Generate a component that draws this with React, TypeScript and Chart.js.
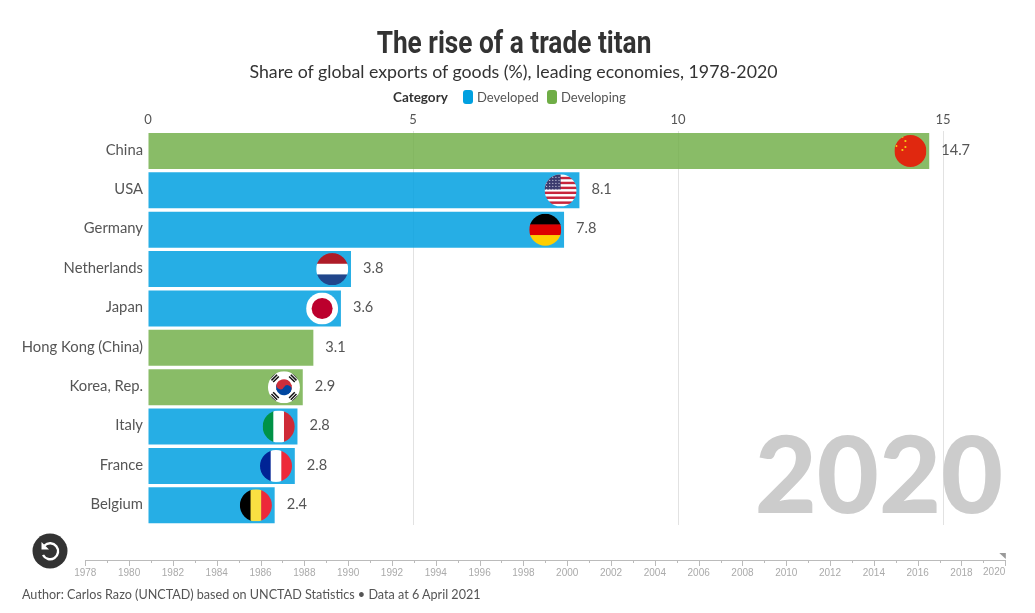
import React, { useEffect, useRef } from "react";
import { Chart, registerables } from "chart.js";

Chart.register(...registerables);

const categories = ["China", "USA", "Germany", "Netherlands", "Japan", "Hong Kong (China)", "Korea, Rep.", "Italy", "France", "Belgium"];
const developed = [null, 8.14, 7.85, 3.83, 3.64, null, null, 2.82, 2.77, 2.39];
const developing = [14.74, null, null, null, null, 3.12, 2.92, null, null, null];
const valueLabels = ["14.7", "8.1", "7.8", "3.8", "3.6", "3.1", "2.9", "2.8", "2.8", "2.4"];
const flags = ["cn", "us", "de", "nl", "jp", "", "kr", "it", "fr", "be"];
const xTicks = [0, 5, 10, 15];
const years = [1978, 2020];
const currentYear = "2020";

const BODY = "Lato, 'Noto Sans', sans-serif";

function stripesH(c: CanvasRenderingContext2D, r: number, colors: string[]) {
  const h = (2 * r) / colors.length;
  colors.forEach((col, i) => {
    c.fillStyle = col;
    c.fillRect(-r, -r + i * h, 2 * r, h + 0.5);
  });
}
function stripesV(c: CanvasRenderingContext2D, r: number, colors: string[]) {
  const w = (2 * r) / colors.length;
  colors.forEach((col, i) => {
    c.fillStyle = col;
    c.fillRect(-r + i * w, -r, w + 0.5, 2 * r);
  });
}
function dot(c: CanvasRenderingContext2D, x: number, y: number, s: number, col: string) {
  c.fillStyle = col;
  c.beginPath();
  c.arc(x, y, s, 0, Math.PI * 2);
  c.fill();
}
function drawFlag(c: CanvasRenderingContext2D, code: string, r: number) {
  if (code === "cn") {
    c.fillStyle = "#e0280f";
    c.fillRect(-r, -r, 2 * r, 2 * r);
    dot(c, -14, -5, 1, "#f7d116");
    dot(c, -8, -14, 1, "#f7d116");
    dot(c, -5, -10, 1.1, "#f7d116");
    dot(c, -5, -4, 1.1, "#f7d116");
    dot(c, -8, -1, 1.1, "#f7d116");
  } else if (code === "us") {
    stripesH(c, r, ["#fff", "#c8253c", "#fff", "#c8253c", "#fff", "#c8253c", "#fff", "#c8253c", "#fff", "#c8253c", "#fff", "#c8253c", "#fff"]);
    c.fillStyle = "#3c3b6e";
    c.fillRect(-r, -r, r, r * 0.95);
    for (let i = 0; i < 5; i++) for (let j = 0; j < 5; j++) dot(c, -r + 2 + j * 3.1, -r + 3 + i * 3, 0.6, "#dfe0ee");
  } else if (code === "de") {
    stripesH(c, r, ["#000", "#dd0000", "#ffce00"]);
  } else if (code === "nl") {
    stripesH(c, r, ["#ae1c28", "#ffffff", "#21468b"]);
  } else if (code === "jp") {
    c.fillStyle = "#fff";
    c.fillRect(-r, -r, 2 * r, 2 * r);
    dot(c, 0, 0, 10.5, "#bc002d");
  } else if (code === "kr") {
    c.fillStyle = "#fff";
    c.fillRect(-r, -r, 2 * r, 2 * r);
    c.save();
    c.rotate(Math.PI / 6);
    c.fillStyle = "#cd2e3a";
    c.beginPath();
    c.arc(0, 0, 8, Math.PI, 0);
    c.fill();
    c.fillStyle = "#0047a0";
    c.beginPath();
    c.arc(0, 0, 8, 0, Math.PI);
    c.fill();
    dot(c, -4, 0, 4, "#cd2e3a");
    dot(c, 4, 0, 4, "#0047a0");
    c.restore();
    [45, 135, 225, 315].forEach((a) => {
      c.save();
      c.rotate((a * Math.PI) / 180);
      c.fillStyle = "#111";
      [0, 2.4, 4.8].forEach((o) => c.fillRect(10.5 + o, -4, 1.5, 8));
      c.restore();
    });
  } else if (code === "it") {
    stripesV(c, r, ["#009246", "#ffffff", "#ce2b37"]);
  } else if (code === "fr") {
    stripesV(c, r, ["#002395", "#ffffff", "#ed2939"]);
  } else if (code === "be") {
    stripesV(c, r, ["#000000", "#fae042", "#ed2939"]);
  }
}

const barDecor = {
  id: "barDecor",
  afterDatasetsDraw(chart: any) {
    const c = chart.ctx as CanvasRenderingContext2D;
    const x = chart.scales.x;
    const y = chart.scales.y;
    categories.forEach((_, i) => {
      const v = (developed[i] ?? developing[i]) as number;
      const end = x.getPixelForValue(v);
      const cy = y.getPixelForValue(i);
      if (flags[i]) {
        c.save();
        c.translate(end - 18.8, cy);
        c.beginPath();
        c.arc(0, 0, 16, 0, Math.PI * 2);
        c.clip();
        drawFlag(c, flags[i], 16);
        c.restore();
      }
      c.save();
      c.font = `14.6px ${BODY}`;
      c.fillStyle = "#555";
      c.textAlign = "left";
      c.textBaseline = "middle";
      c.fillText(valueLabels[i], end + 12, cy - 1);
      c.restore();
    });
    c.save();
    c.font = `900 107px ${BODY}`;
    c.fillStyle = "#cccccc";
    c.textAlign = "right";
    c.textBaseline = "alphabetic";
    c.fillText(currentYear, 1003, 513);
    c.restore();
  },
};

const timelineDecor = {
  id: "timelineDecor",
  afterDraw(chart: any) {
    const c = chart.ctx as CanvasRenderingContext2D;
    const x = chart.scales.x;
    const top = x.top;
    c.save();
    c.strokeStyle = "#bbbbbb";
    c.lineWidth = 1;
    c.beginPath();
    c.moveTo(x.left, top + 0.5);
    c.lineTo(x.right, top + 0.5);
    for (let yr = years[0]; yr <= years[1]; yr++) {
      const px = Math.round(x.getPixelForValue(yr)) + 0.5;
      c.moveTo(px, top);
      c.lineTo(px, top + (yr % 2 === 0 ? 6 : 3));
    }
    c.stroke();
    const last = x.getPixelForValue(years[1]);
    c.fillStyle = "#999999";
    c.beginPath();
    c.moveTo(last - 6, top - 7);
    c.lineTo(last + 0.5, top - 7);
    c.lineTo(last + 0.5, top - 1);
    c.closePath();
    c.fill();
    c.font = "10px 'Liberation Sans', Arial, sans-serif";
    c.fillStyle = "#aaaaaa";
    c.textAlign = "right";
    c.textBaseline = "middle";
    c.fillText(String(years[1]), last, top + 12.5);
    c.restore();
  },
};

export default function App() {
  const mainRef = useRef<HTMLCanvasElement>(null);
  const timeRef = useRef<HTMLCanvasElement>(null);

  useEffect(() => {
    const main = new Chart(mainRef.current!, {
      type: "bar",
      data: {
        labels: categories,
        datasets: [
          { label: "Developed", data: developed, backgroundColor: "rgba(0,160,224,0.85)", borderWidth: 0, barPercentage: 1, categoryPercentage: 0.914 },
          { label: "Developing", data: developing, backgroundColor: "rgba(111,173,70,0.82)", borderWidth: 0, barPercentage: 1, categoryPercentage: 0.914 },
        ],
      },
      options: {
        indexAxis: "y",
        responsive: false,
        animation: false,
        devicePixelRatio: 1,
        layout: { padding: { top: 110, bottom: 88, left: 0, right: 92 } },
        plugins: { legend: { display: false }, title: { display: false }, tooltip: { enabled: false } },
        scales: {
          x: {
            position: "top",
            stacked: true,
            min: xTicks[0],
            max: xTicks[xTicks.length - 1],
            afterFit(s: any) { s.height = 21.3; },
            ticks: { stepSize: 5, color: "#555", font: { family: BODY, size: 13 }, padding: 4, maxRotation: 0 },
            grid: { color: (ctx: any) => (ctx.tick && ctx.tick.value === 0 ? "rgba(0,0,0,0)" : "#e2e2e2"), drawTicks: false },
            border: { display: false },
          },
          y: {
            stacked: true,
            afterFit(s: any) { s.width = 148; },
            ticks: { color: "#555", font: { family: BODY, size: 14.8 }, padding: 5, autoSkip: false, labelOffset: -1 },
            grid: { display: false, drawTicks: false },
            border: { display: false },
          },
        },
      },
      plugins: [barDecor],
    } as any);

    const time = new Chart(timeRef.current!, {
      type: "scatter",
      data: { datasets: [{ data: [] }] },
      options: {
        responsive: false,
        animation: false,
        devicePixelRatio: 1,
        layout: { padding: { left: 85.3, right: 29.7, top: 0, bottom: 0 } },
        plugins: { legend: { display: false }, tooltip: { enabled: false } },
        scales: {
          x: {
            type: "linear",
            min: years[0],
            max: years[1],
            afterFit(s: any) { s.height = 30; },
            ticks: {
              stepSize: 2,
              autoSkip: false,
              maxRotation: 0,
              padding: 7,
              color: "#aaaaaa",
              font: { family: "'Liberation Sans', Arial, sans-serif", size: 10 },
              callback: (v: any) => (v === years[1] ? "" : String(v)),
            },
            grid: { display: false, drawTicks: false },
            border: { display: false },
          },
          y: { display: false },
        },
      },
      plugins: [timelineDecor],
    } as any);

    return () => {
      main.destroy();
      time.destroy();
    };
  }, []);

  const abs = (o: React.CSSProperties): React.CSSProperties => ({ position: "absolute", whiteSpace: "nowrap", ...o });

  return (
    <div style={{ position: "absolute", left: 0, top: 0, width: 1035, height: 613, background: "#fff", overflow: "hidden", fontFamily: BODY, color: "#555" }}>
      <canvas ref={mainRef} width={1035} height={613} style={{ position: "absolute", left: 0, top: 0 }} />
      <canvas ref={timeRef} width={1035} height={50} style={{ position: "absolute", left: 0, top: 540 }} />
      <div style={abs({ left: 0, width: 1028, top: 23, textAlign: "center", fontFamily: "Roboto, sans-serif", fontWeight: 700, fontSize: 32, lineHeight: "38px", color: "#333", transform: "scaleX(0.82)" })}>The rise of a trade titan</div>
      <div style={abs({ left: 0, width: 1027, top: 60, textAlign: "center", fontSize: 17.75, lineHeight: "22px", color: "#333" })}>Share of global exports of goods (%), leading economies, 1978-2020</div>
      <div style={abs({ left: 393, top: 89, fontSize: 13.5, fontWeight: 700, lineHeight: "17px", color: "#333" })}>Category</div>
      <div style={abs({ left: 463, top: 90, width: 10, height: 14, borderRadius: 3, background: "#00a0e0" })} />
      <div style={abs({ left: 477, top: 89, fontSize: 13, lineHeight: "17px" })}>Developed</div>
      <div style={abs({ left: 547, top: 90, width: 10, height: 14, borderRadius: 3, background: "#6fad46" })} />
      <div style={abs({ left: 561, top: 89, fontSize: 13, lineHeight: "17px" })}>Developing</div>
      <svg width={36} height={36} viewBox="0 0 36 36" style={{ position: "absolute", left: 32, top: 533 }}>
        <circle cx={18} cy={18} r={17.5} fill="#333" />
        <path d="M12.5 12.5 A8 8 0 1 1 11 22" fill="none" stroke="#fff" strokeWidth={2.4} />
        <path d="M9.5 9 L9.5 16.5 L17 16.5 Z" fill="#fff" />
      </svg>
      <div style={abs({ left: 22, top: 587, fontSize: 12.6, lineHeight: "16px" })}>Author: Carlos Razo (UNCTAD) based on UNCTAD Statistics • Data at 6 April 2021</div>
    </div>
  );
}
